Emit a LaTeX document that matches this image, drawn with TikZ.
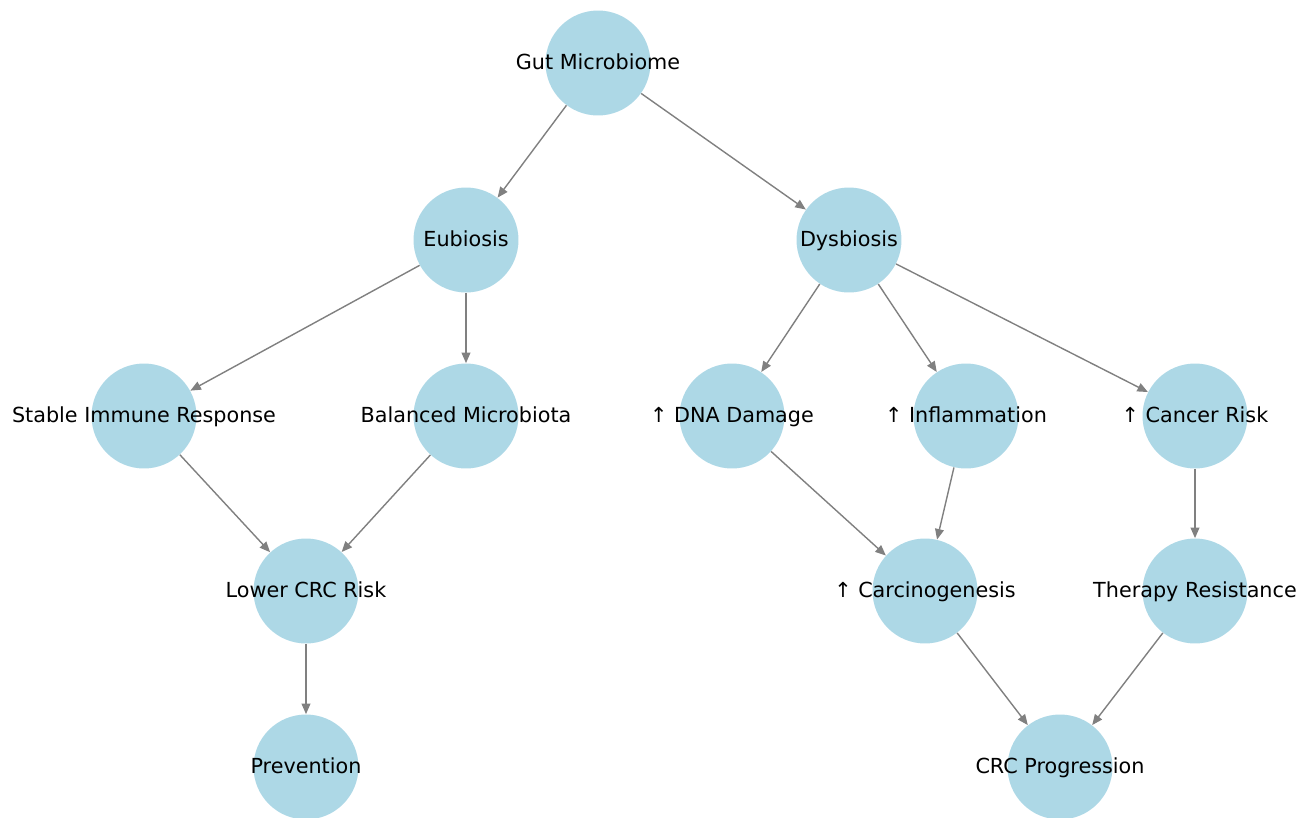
\documentclass[tikz,border=0pt]{standalone}
\usepackage{fontspec}
\setmainfont{DejaVu Sans}
\usepackage{tikz}
\usetikzlibrary{arrows.meta}

\definecolor{nodeblue}{HTML}{ADD8E6}
\definecolor{edgegray}{HTML}{808080}

\tikzset{
  state/.style={circle, fill=nodeblue, draw=none, minimum size=2.1cm, inner sep=0pt},
  statetext/.style={text=black, font=\fontsize{11.8}{14}\selectfont, inner sep=0pt,
    text height=1.02em, text depth=0.24em},
  link/.style={draw=edgegray, line width=0.8pt, -{Triangle[length=6pt,width=5pt]}}
}

\begin{document}
\begin{tikzpicture}[x=0.02cm,y=-0.02cm]
\useasboundingbox (0,0) rectangle (1306,818);
% nodes, row by row
\node[state,label={[statetext]center:Gut Microbiome}] (gut) at (598,63) {};
\node[state,label={[statetext]center:Eubiosis}] (eub) at (466,240) {};
\node[state,label={[statetext]center:Dysbiosis}] (dys) at (849,240) {};
\node[state,label={[statetext]center:Stable Immune Response}] (immune) at (144,416) {};
\node[state,label={[statetext]center:Balanced Microbiota}] (balanced) at (466,416) {};
\node[state,label={[statetext]center:↑ DNA Damage}] (dna) at (732,416) {};
\node[state,label={[statetext]center:↑ Inflammation}] (infl) at (966,416) {};
\node[state,label={[statetext]center:↑ Cancer Risk}] (risk) at (1195,416) {};
\node[state,label={[statetext]center:Lower CRC Risk}] (lower) at (306,591) {};
\node[state,label={[statetext]center:↑ Carcinogenesis}] (carc) at (925,591) {};
\node[state,label={[statetext]center:Therapy Resistance}] (therapy) at (1195,591) {};
\node[state,label={[statetext]center:Prevention}] (prev) at (306,767) {};
\node[state,label={[statetext]center:CRC Progression}] (prog) at (1060,767) {};
% edges
\draw[link] (gut) -- (eub);
\draw[link] (gut) -- (dys);
\draw[link] (eub) -- (immune);
\draw[link] (eub) -- (balanced);
\draw[link] (dys) -- (dna);
\draw[link] (dys) -- (infl);
\draw[link] (dys) -- (risk);
\draw[link] (immune) -- (lower);
\draw[link] (balanced) -- (lower);
\draw[link] (lower) -- (prev);
\draw[link] (dna) -- (carc);
\draw[link] (infl) -- (carc);
\draw[link] (risk) -- (therapy);
\draw[link] (carc) -- (prog);
\draw[link] (therapy) -- (prog);
\end{tikzpicture}
\end{document}
